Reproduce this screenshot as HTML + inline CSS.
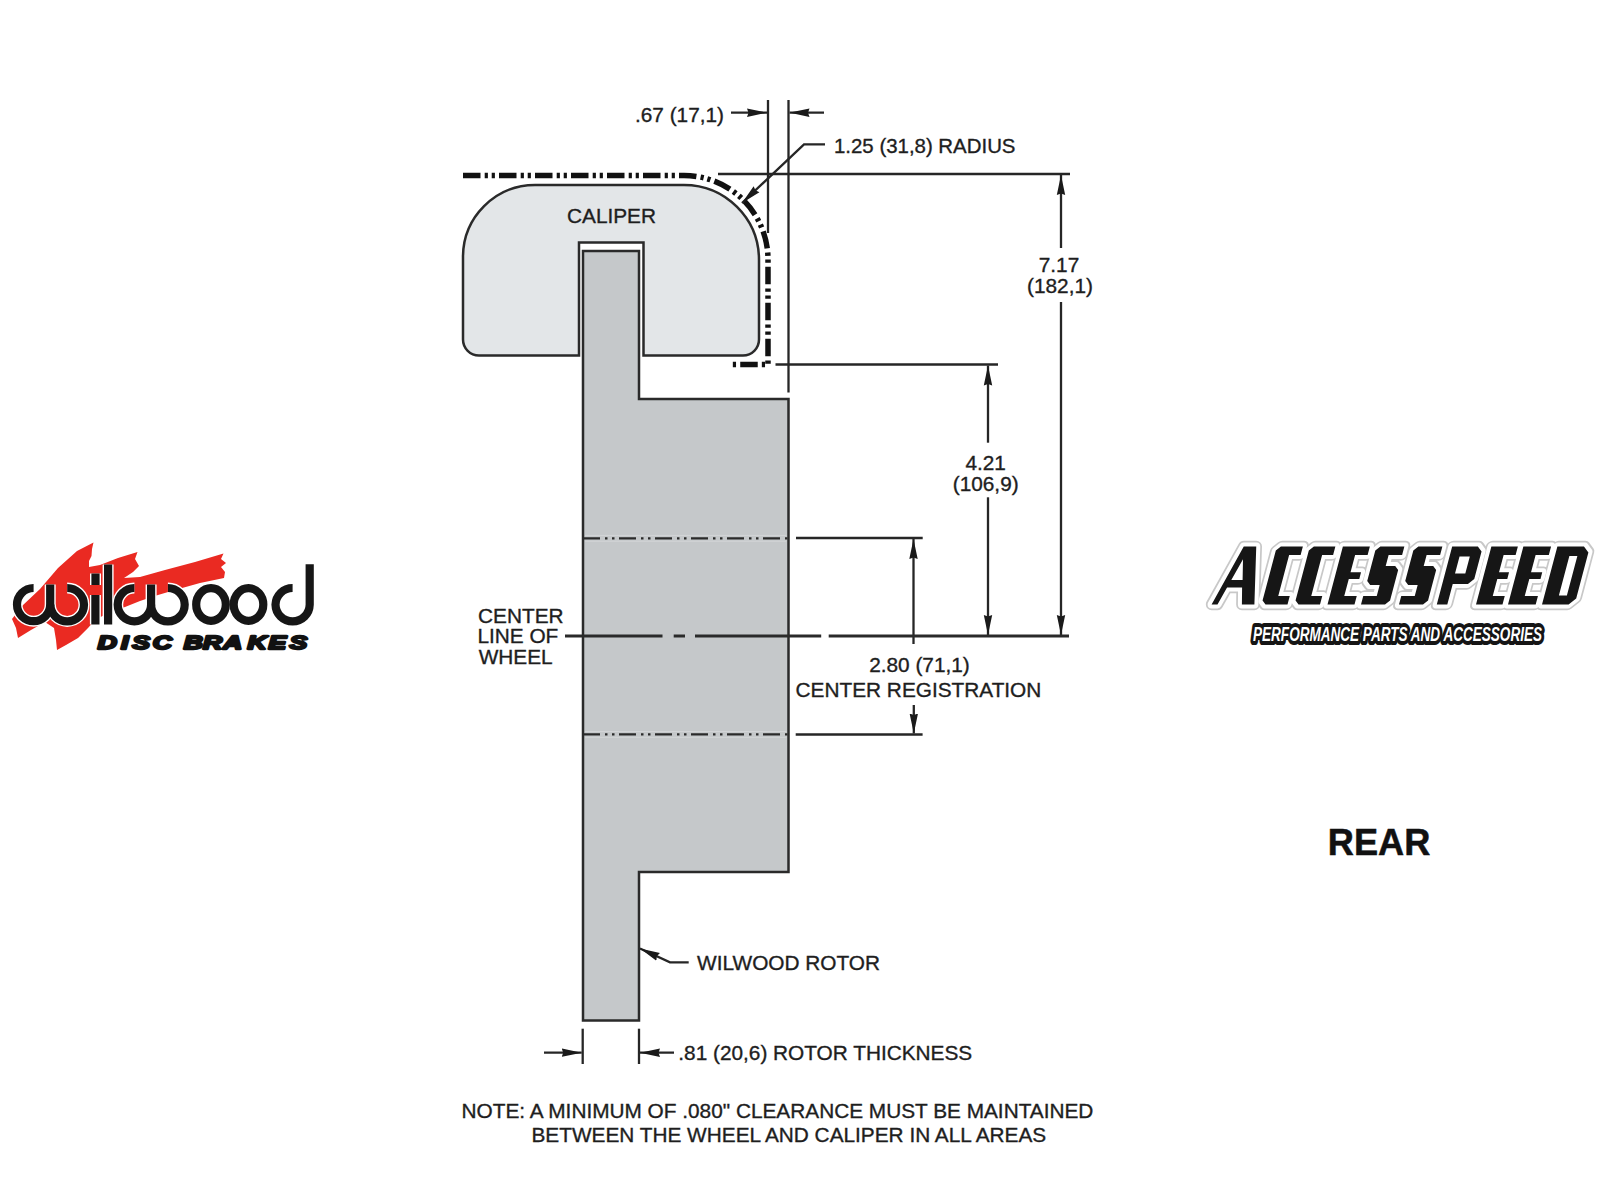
<!DOCTYPE html>
<html>
<head>
<meta charset="utf-8">
<style>
html,body{margin:0;padding:0;background:#fff;width:1600px;height:1200px;overflow:hidden;}
svg{position:absolute;left:0;top:0;}
text{font-family:"Liberation Sans",sans-serif;}
</style>
</head>
<body>
<svg width="1600" height="1200" viewBox="0 0 1600 1200">
<defs>
  <marker id="ah" viewBox="0 0 20 10" refX="20" refY="5" markerWidth="20" markerHeight="10" markerUnits="userSpaceOnUse" orient="auto">
    <path d="M0,0.8 L20,5 L0,9.2 L1.5,5 Z" fill="#1a1a1a"/>
  </marker>
</defs>

<!-- caliper -->
<path d="M579,355.5 L479,355.5 A16,16 0 0 1 463,339.5 L463,257 A72,72 0 0 1 535,185 L684,185 A75,75 0 0 1 759,260 L759,339.5 A16,16 0 0 1 743,355.5 L643.5,355.5 L643.5,242.5 L579,242.5 Z" fill="#e3e6e8" stroke="#2a2a2a" stroke-width="2.5"/>

<!-- rotor -->
<path d="M583,251 L639,251 L639,399 L788.5,399 L788.5,872 L639,872 L639,1020.5 L583,1020.5 Z" fill="#c5c8ca" stroke="#2a2a2a" stroke-width="2.5"/>

<!-- hub dashed lines -->
<g stroke="#2a2a2a" stroke-width="2.2" stroke-dasharray="17 5 2.5 4.5 2.5 4.5" fill="none">
  <line x1="583" y1="538.3" x2="788" y2="538.3"/>
  <line x1="583" y1="734.4" x2="788" y2="734.4"/>
</g>

<g stroke="#fff" stroke-width="1" opacity="0.25">
  <line x1="585" y1="535.4" x2="786.5" y2="535.4"/>
  <line x1="585" y1="541.2" x2="786.5" y2="541.2"/>
  <line x1="585" y1="731.5" x2="786.5" y2="731.5"/>
  <line x1="585" y1="737.3" x2="786.5" y2="737.3"/>
</g>
<!-- caliper envelope dash-dot -->
<path d="M463,175.5 L684,175.5 A84,84 0 0 1 768,259.5 L768,364.5 L731,364.5" fill="none" stroke="#111" stroke-width="5.5" stroke-dasharray="17.5 4.2 3.2 3.8 3.2 4.1"/>

<!-- dimension lines -->
<g stroke="#262626" stroke-width="2.3" fill="none">
  <line x1="768" y1="100" x2="768" y2="233"/>
  <line x1="788.5" y1="100" x2="788.5" y2="392.5"/>
  <line x1="731" y1="112.7" x2="767" y2="112.7" marker-end="url(#ah)"/>
  <line x1="824" y1="112.7" x2="789.5" y2="112.7" marker-end="url(#ah)"/>
  <polyline points="825,144.3 804,144.3 742,203" marker-end="url(#ah)"/>
  <line x1="718" y1="174" x2="1070" y2="174"/>
  <line x1="1061" y1="248" x2="1061" y2="175" marker-end="url(#ah)"/>
  <line x1="1061" y1="302" x2="1061" y2="635" marker-end="url(#ah)"/>
  <line x1="775.5" y1="364.5" x2="998" y2="364.5"/>
  <line x1="988" y1="442.7" x2="988" y2="365.5" marker-end="url(#ah)"/>
  <line x1="988" y1="497.3" x2="988" y2="635" marker-end="url(#ah)"/>
  <line x1="796" y1="538" x2="922.7" y2="538"/>
  <line x1="913.5" y1="644" x2="913.5" y2="539" marker-end="url(#ah)"/>
  <line x1="913.8" y1="705" x2="913.8" y2="733.5" marker-end="url(#ah)"/>
  <line x1="795.7" y1="734.5" x2="922.6" y2="734.5"/>
  <line x1="582.7" y1="1028.7" x2="582.7" y2="1064"/>
  <line x1="639" y1="1028.7" x2="639" y2="1064"/>
  <line x1="544" y1="1052.7" x2="581.7" y2="1052.7" marker-end="url(#ah)"/>
  <line x1="674" y1="1052.7" x2="640" y2="1052.7" marker-end="url(#ah)"/>
  <polyline points="688.7,962.4 670,962.4 640,948.5" marker-end="url(#ah)"/>
</g>
<!-- center line -->
<g stroke="#2a2a2a" stroke-width="3">
  <line x1="565" y1="636" x2="662.5" y2="636"/>
  <line x1="673.7" y1="636" x2="685" y2="636"/>
  <line x1="695" y1="636" x2="821.2" y2="636"/>
  <line x1="828.7" y1="636" x2="1069" y2="636"/>
</g>

<!-- texts -->
<g font-size="20.8" fill="#1e1e1e" stroke="#1e1e1e" stroke-width="0.35">
  <text x="635" y="122.3">.67 (17,1)</text>
  <text x="834" y="153.3" textLength="181.5" lengthAdjust="spacingAndGlyphs">1.25 (31,8) RADIUS</text>
  <text x="567" y="222.6">CALIPER</text>
  <text x="1059" y="272.3" text-anchor="middle">7.17</text>
  <text x="1060" y="293.3" text-anchor="middle">(182,1)</text>
  <text x="985.7" y="470" text-anchor="middle">4.21</text>
  <text x="985.7" y="491" text-anchor="middle">(106,9)</text>
  <text x="478.1" y="623.3">CENTER</text>
  <text x="477.4" y="643.3">LINE OF</text>
  <text x="478.7" y="663.8">WHEEL</text>
  <text x="869.2" y="672">2.80 (71,1)</text>
  <text x="795.6" y="697">CENTER REGISTRATION</text>
  <text x="697.1" y="969.9">WILWOOD ROTOR</text>
  <text x="678.3" y="1059.6">.81 (20,6) ROTOR THICKNESS</text>
  <text x="461.6" y="1117.8">NOTE: A MINIMUM OF .080" CLEARANCE MUST BE MAINTAINED</text>
  <text x="531.5" y="1142">BETWEEN THE WHEEL AND CALIPER IN ALL AREAS</text>
</g>
<text x="1327.8" y="855.2" font-size="36.2" font-weight="bold" fill="#111" stroke="#111" stroke-width="0.5">REAR</text>

<!-- Wilwood logo -->
<g id="wilwood">
  <polygon fill="#ea2a22" points="12,619 22,606 40,589 58,568 77,551 93.5,542.5 92,549 91.5,556 89,561 89,567 100,565 118,558 137.5,552 135,559 139,566 133,572 124,578 140,577 165,570 195,562 223.5,553.5 221,559 226,563 221,567 225,572 224,578 200,583 175,590 158,595 140,601 125,607 110,612 95,620 88,628 78,638 66,645 57,650 56,640 54,628 45,622 31,630 18,638 16,628"/>
  <defs><g id="wwl">
    <path d="M33.6,588 A16.6,16.6 0 0 0 17,604.6 A16.6,16.6 0 0 0 33.6,621.2 A16.6,16.6 0 0 0 50.2,604.6 L50.2,584.5"/>
    <path d="M67.2,588 A16.8,16.8 0 0 1 84,604.6 A16.8,16.8 0 0 1 67.2,621.4 A16.8,16.8 0 0 1 50.4,604.6"/>
    <path d="M134.4,588 A16.7,16.7 0 0 0 117.7,604.6 A16.7,16.7 0 0 0 134.4,621.3 A16.7,16.7 0 0 0 151.1,604.6 L151.1,584.5"/>
    <path d="M167.9,588 A16.8,16.8 0 0 1 184.7,604.6 A16.8,16.8 0 0 1 167.9,621.4 A16.8,16.8 0 0 1 151.1,604.6"/>
    <ellipse cx="211" cy="604.5" rx="14.8" ry="16.3"/>
    <ellipse cx="248.5" cy="604.5" rx="14.8" ry="16.3"/>
    <path d="M292.6,588 A17.1,17.1 0 0 0 275.5,604.6 A17.1,17.1 0 0 0 292.6,621.4 A17.1,17.1 0 0 0 309.7,604.6 L309.7,564.2"/>
    <path d="M95.4,595 L95.4,624.5 M95.5,573.5 L95.5,585 M108.1,564.5 L108.1,624.5"/>
  </g>
  </defs>
  <use href="#wwl" fill="none" stroke="#fff" stroke-width="11"/>
  <use href="#wwl" fill="none" stroke="#161616" stroke-width="8.2"/>
  <g transform="translate(97.8,648.8) scale(1.42,1)"><text x="0.00 16.41 24.19 38.73 60.56 74.08 88.24 105.49 120.28 135.07" y="0" font-size="18.6" font-weight="bold" font-style="italic" fill="#111" stroke="#111" stroke-width="2.3" stroke-linejoin="round">DISCBRAKES</text></g>
</g>

<!-- Accesspeed logo -->
<defs>
  <g id="acc">
    <path d="M1211.6,604.4 L1243.75,546.5 L1256.25,546.5 L1254.4,604.4 L1241.9,604.4 L1242.1,587.5 L1227.05,587.5 L1217.5,604.4 Z M1231.3,580 L1243,559.3 L1242.6,580 Z"/>
    <path transform="translate(1261.5,604.5) skewX(-14.85)" d="M4,-58 L26,-58 L26,-49.5 L14.5,-49.5 L14.5,-8.5 L26,-8.5 L26,0 L4,0 L0,-4 L0,-54 Z"/>
    <path transform="translate(1294.5,604.5) skewX(-14.85)" d="M4,-58 L25.5,-58 L25.5,-49.5 L14.5,-49.5 L14.5,-8.5 L25.5,-8.5 L25.5,0 L4,0 L0,-4 L0,-54 Z"/>
    <path transform="translate(1327.5,604.5) skewX(-14.85)" d="M0,-58 L27,-58 L27,-49.5 L14.5,-49.5 L14.5,-32.2 L25,-32.2 L25,-25.6 L14.5,-25.6 L14.5,-8.5 L27,-8.5 L27,0 L0,0 Z"/>
    <path transform="translate(1361,604.5) skewX(-14.85)" d="M4,-58 L28,-58 L28,-49.5 L14.5,-49.5 L14.5,-38.5 L24,-38.5 L28,-34.5 L28,-4 L24,0 L0,0 L0,-8.5 L13.5,-8.5 L13.5,-19.5 L4,-19.5 L0,-23.5 L0,-54 Z"/>
    <path transform="translate(1399,604.5) skewX(-14.85)" d="M4,-58 L28,-58 L28,-49.5 L14.5,-49.5 L14.5,-38.5 L24,-38.5 L28,-34.5 L28,-4 L24,0 L0,0 L0,-8.5 L13.5,-8.5 L13.5,-19.5 L4,-19.5 L0,-23.5 L0,-54 Z"/>
    <path transform="translate(1436.8,604.5) skewX(-14.85)" d="M0,-58 L25.7,-58 L30.7,-53 L30.7,-25.5 L25.7,-20.5 L10.5,-20.5 L10.5,0 L0,0 Z M10,-48 L20.3,-48 L20.3,-31 L10,-31 Z"/>
    <path transform="translate(1476,604.5) skewX(-14.85)" d="M0,-58 L26.5,-58 L26.5,-49.5 L14.5,-49.5 L14.5,-32.2 L24.5,-32.2 L24.5,-25.6 L14.5,-25.6 L14.5,-8.5 L26.5,-8.5 L26.5,0 L0,0 Z"/>
    <path transform="translate(1508,604.5) skewX(-14.85)" d="M0,-58 L27.7,-58 L27.7,-49.5 L14.5,-49.5 L14.5,-32.2 L25.7,-32.2 L25.7,-25.6 L14.5,-25.6 L14.5,-8.5 L27.7,-8.5 L27.7,0 L0,0 Z"/>
    <path transform="translate(1542,604.5) skewX(-14.85)" d="M0,-58 L26.6,-58 L32.6,-52 L32.6,-6 L26.6,0 L0,0 Z M14.5,-48.5 L22.5,-48.5 L22.5,-9 L14.5,-9 Z"/>
  </g>
</defs>
<use href="#acc" fill="#c8c8c8" stroke="#c8c8c8" stroke-width="11.5" stroke-linejoin="round"/>
<use href="#acc" fill="#fff" stroke="#fff" stroke-width="8" stroke-linejoin="round"/>
<use href="#acc" fill="#161616" fill-rule="evenodd"/>
<text x="1253" y="641.3" font-size="19.5" font-weight="bold" font-style="italic" fill="#fff" stroke="#151515" stroke-width="8.2" paint-order="stroke fill" stroke-linejoin="round" textLength="289" lengthAdjust="spacingAndGlyphs">PERFORMANCE PARTS AND ACCESSORIES</text>
</svg>
</body>
</html>
